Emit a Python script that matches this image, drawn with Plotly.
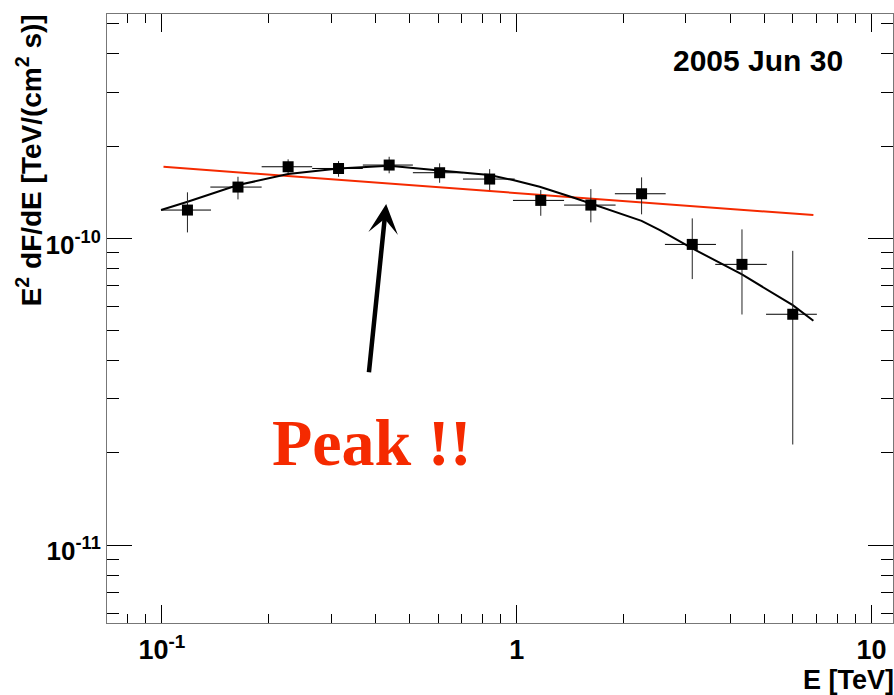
import math
import plotly.graph_objects as go

# ---- data ----
energy = [0.118, 0.1638, 0.2268, 0.3146, 0.437, 0.6064, 0.839, 1.169, 1.618, 2.249, 3.125, 4.315, 6.0]
energy_lo = [0.0994, 0.1369, 0.191, 0.2651, 0.3683, 0.5097, 0.7055, 0.976, 1.36, 1.891, 2.617, 3.628, 5.045]
energy_hi = [0.1375, 0.191, 0.2651, 0.3683, 0.5097, 0.7055, 0.987, 1.36, 1.90, 2.63, 3.645, 5.07, 7.016]
flux = [1.237e-10, 1.47e-10, 1.712e-10, 1.69e-10, 1.734e-10, 1.637e-10, 1.561e-10,
        1.33e-10, 1.284e-10, 1.398e-10, 9.56e-11, 8.23e-11, 5.66e-11]
flux_lo = [1.046e-10, 1.34e-10, 1.63e-10, 1.588e-10, 1.63e-10, 1.518e-10, 1.437e-10,
           1.185e-10, 1.128e-10, 1.198e-10, 7.37e-11, 5.65e-11, 2.13e-11]
flux_hi = [1.413e-10, 1.588e-10, 1.81e-10, 1.786e-10, 1.845e-10, 1.756e-10, 1.682e-10,
           1.437e-10, 1.448e-10, 1.581e-10, 1.162e-10, 1.07e-10, 9.11e-11]

curved_fit_e = [0.0994, 0.1181, 0.1638, 0.2268, 0.3146, 0.437, 0.6064, 0.839, 0.976, 1.161,
                1.442, 1.618, 2.249, 2.533, 3.125, 4.315, 6.0, 6.86]
curved_fit_f = [1.237e-10, 1.316e-10, 1.492e-10, 1.621e-10, 1.691e-10, 1.725e-10, 1.664e-10,
                1.609e-10, 1.549e-10, 1.473e-10, 1.36e-10, 1.30e-10, 1.141e-10, 1.064e-10,
                9.28e-11, 7.63e-11, 6.06e-11, 5.39e-11]

powerlaw_e = [0.101, 6.86]
powerlaw_f = [1.712e-10, 1.191e-10]

x_tick_vals = [0.1, 1, 10]
x_tick_text = ["10<sup>-1</sup>", "1", "10"]
y_tick_vals = [1e-11, 1e-10]
y_tick_text = ["10<sup>-11</sup>", "10<sup>-10</sup>"]

date_label = "2005 Jun 30"
peak_label = "Peak !!"

# ---- figure ----
RED = "#f52a00"
font_family = "Liberation Sans, Arial, Helvetica, sans-serif"

fig = go.Figure()

fig.add_trace(go.Scatter(
    x=powerlaw_e, y=powerlaw_f, mode="lines",
    line=dict(color=RED, width=2), showlegend=False, hoverinfo="skip"))

fig.add_trace(go.Scatter(
    x=curved_fit_e, y=curved_fit_f, mode="lines",
    line=dict(color="black", width=2), showlegend=False, hoverinfo="skip"))

fig.add_trace(go.Scatter(
    x=energy, y=flux, mode="markers",
    marker=dict(symbol="square", size=11, color="black"),
    error_x=dict(type="data", symmetric=False,
                 array=[h - e for h, e in zip(energy_hi, energy)],
                 arrayminus=[e - l for e, l in zip(energy, energy_lo)],
                 color="black", thickness=1, width=0),
    error_y=dict(type="data", symmetric=False,
                 array=[h - f for h, f in zip(flux_hi, flux)],
                 arrayminus=[f - l for f, l in zip(flux, flux_lo)],
                 color="#222", thickness=1, width=0),
    showlegend=False))

x_minor = [m * 10.0 ** k for k in (-2, -1, 0, 1) for m in range(2, 10)]
y_minor = [m * 10.0 ** k for k in (-12, -11, -10) for m in range(2, 10)]

axis_common = dict(
    type="log", showgrid=False, zeroline=False, showline=True,
    linecolor="#777", linewidth=1, mirror="ticks",
    ticks="inside", tickcolor="black", tickwidth=1,
    tickmode="array", automargin=False,
)

fig.update_xaxes(
    **axis_common,
    range=[math.log10(0.07), math.log10(11.5)],
    tickvals=x_tick_vals, ticktext=x_tick_text,
    tickfont=dict(family=font_family, size=27, color="black", weight="bold"),
    ticklen=18, ticklabelstandoff=3,
    minor=dict(tickmode="array", tickvals=x_minor, ticks="inside", ticklen=9,
               tickcolor="black", tickwidth=1, showgrid=False),
)
fig.update_yaxes(
    **axis_common,
    range=[-11.2533, -9.2687],
    tickvals=y_tick_vals, ticktext=y_tick_text,
    tickfont=dict(family=font_family, size=26, color="black", weight="bold"),
    ticklen=25, ticklabelstandoff=0, ticklabelshift=6,
    minor=dict(tickmode="array", tickvals=y_minor, ticks="inside", ticklen=12,
               tickcolor="black", tickwidth=1, showgrid=False),
)

annotations = [
    # date label
    dict(text=date_label, xref="paper", yref="paper", x=0.828, y=0.9236,
         xanchor="center", yanchor="middle", showarrow=False,
         font=dict(family=font_family, size=30, color="black", weight="bold")),
    # x title
    dict(text="E [TeV]", xref="paper", yref="paper", x=1.004, y=-0.093,
         xanchor="right", yanchor="middle", showarrow=False,
         font=dict(family=font_family, size=27, color="black", weight="bold")),
    # y title
    dict(text="E<sup>2</sup> dF/dE [TeV/(cm<sup>2</sup> s)]", xref="paper", yref="paper",
         x=-0.099, y=0.76, xanchor="center", yanchor="middle", textangle=-90,
         showarrow=False,
         font=dict(family=font_family, size=28, color="black", weight="bold")),
    # peak label
    dict(text=peak_label, xref="paper", yref="paper",
         x=(371.7 - 107) / 786, y=(623 - 442) / 609,
         xanchor="center", yanchor="middle", showarrow=False,
         font=dict(family="Liberation Serif, Times New Roman, serif", size=66,
                   color=RED, weight="bold")),
    # arrow
    dict(text="", x=math.log10(0.4286), y=math.log10(1.294e-10), xref="x", yref="y",
         showarrow=True, ax=-17.4, ay=169.7, arrowhead=3, arrowwidth=4.5,
         arrowsize=1.1, arrowcolor="black", standoff=0),
]

fig.update_layout(
    width=894, height=695,
    margin=dict(l=107, r=1, t=14, b=72),
    paper_bgcolor="white", plot_bgcolor="white",
    annotations=annotations,
    showlegend=False,
)

fig.write_html(
    "out.html",
    config={"displayModeBar": False},
    post_script="document.body.style.margin='0';document.body.style.overflow='hidden';",
)
